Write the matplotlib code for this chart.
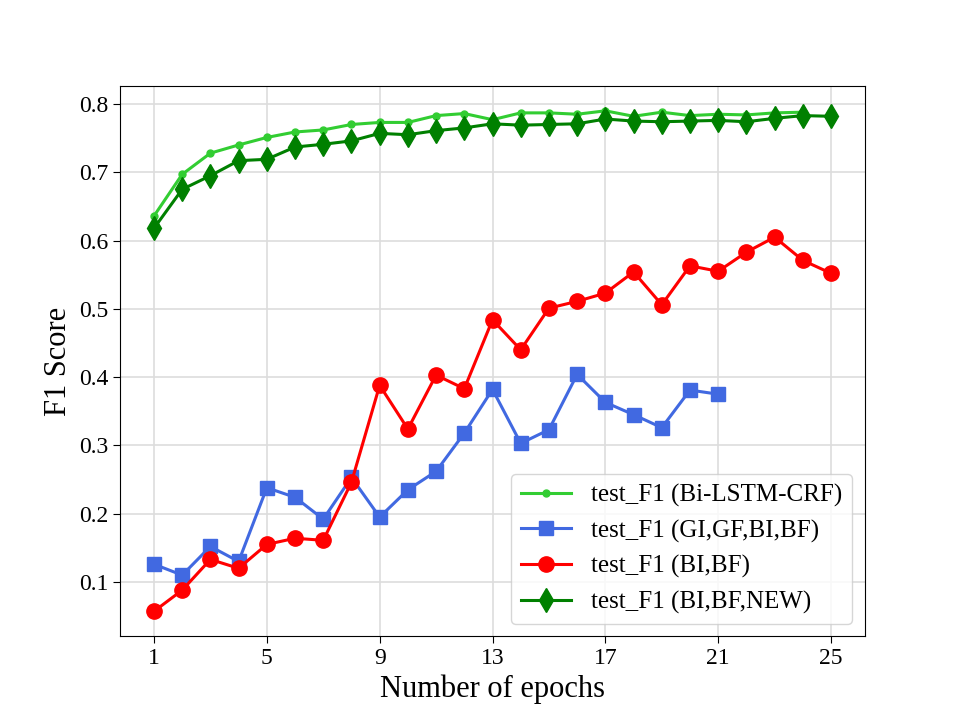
import matplotlib
matplotlib.use('Agg')
import matplotlib.pyplot as plt
import numpy as np

# data
epochs = list(range(1, 26))

f1_bilstm = [0.636, 0.697, 0.728, 0.740, 0.751, 0.759, 0.762, 0.770, 0.773, 0.773,
             0.783, 0.786, 0.777, 0.787, 0.787, 0.785, 0.790, 0.782, 0.788, 0.783,
             0.785, 0.784, 0.787, 0.788]
f1_gigf = [0.126, 0.110, 0.152, 0.130, 0.238, 0.224, 0.192, 0.253, 0.195, 0.235,
           0.262, 0.318, 0.382, 0.303, 0.323, 0.404, 0.363, 0.345, 0.326, 0.381,
           0.375]
f1_bibf = [0.057, 0.088, 0.133, 0.120, 0.155, 0.164, 0.161, 0.246, 0.388, 0.324,
           0.403, 0.383, 0.484, 0.440, 0.501, 0.511, 0.523, 0.554, 0.506, 0.563,
           0.555, 0.583, 0.605, 0.571, 0.552]
f1_new = [0.618, 0.675, 0.695, 0.717, 0.719, 0.737, 0.741, 0.746, 0.757, 0.755,
          0.761, 0.765, 0.771, 0.769, 0.770, 0.771, 0.778, 0.775, 0.774, 0.775,
          0.776, 0.774, 0.779, 0.783, 0.782]

labels = ['test_F1 (Bi-LSTM-CRF)', 'test_F1 (GI,GF,BI,BF)',
          'test_F1 (BI,BF)', 'test_F1 (BI,BF,NEW)']
xticks = [1, 5, 9, 13, 17, 21, 25]

plt.rcParams['font.family'] = ['Liberation Serif', 'DejaVu Serif']

fig, ax = plt.subplots(figsize=(9.61, 7.15), dpi=100)
ax.plot(epochs[:len(f1_bilstm)], f1_bilstm, color='limegreen', marker='.',
        markersize=10, linewidth=2.2, label=labels[0], zorder=3)
ax.plot(epochs[:len(f1_gigf)], f1_gigf, color='royalblue', marker='s',
        markersize=10, linewidth=2.2, label=labels[1], zorder=3)
ax.plot(epochs, f1_bibf, color='red', marker='o',
        markersize=11, linewidth=2.2, label=labels[2], zorder=3)
ax.plot(epochs, f1_new, color='green', marker='d',
        markersize=12, linewidth=2.2, label=labels[3], zorder=3)

ax.set_xticks(xticks)
ax.tick_params(labelsize=17, length=5)
ax.grid(True, color='#dddddd', linewidth=1.2)
ax.set_axisbelow(True)
ax.set_xlabel('Number of epochs', fontsize=22)
ax.set_ylabel('F1 Score', fontsize=22)
ax.legend(loc='lower right', fontsize=18)

fig.savefig('out.png', dpi=100)
